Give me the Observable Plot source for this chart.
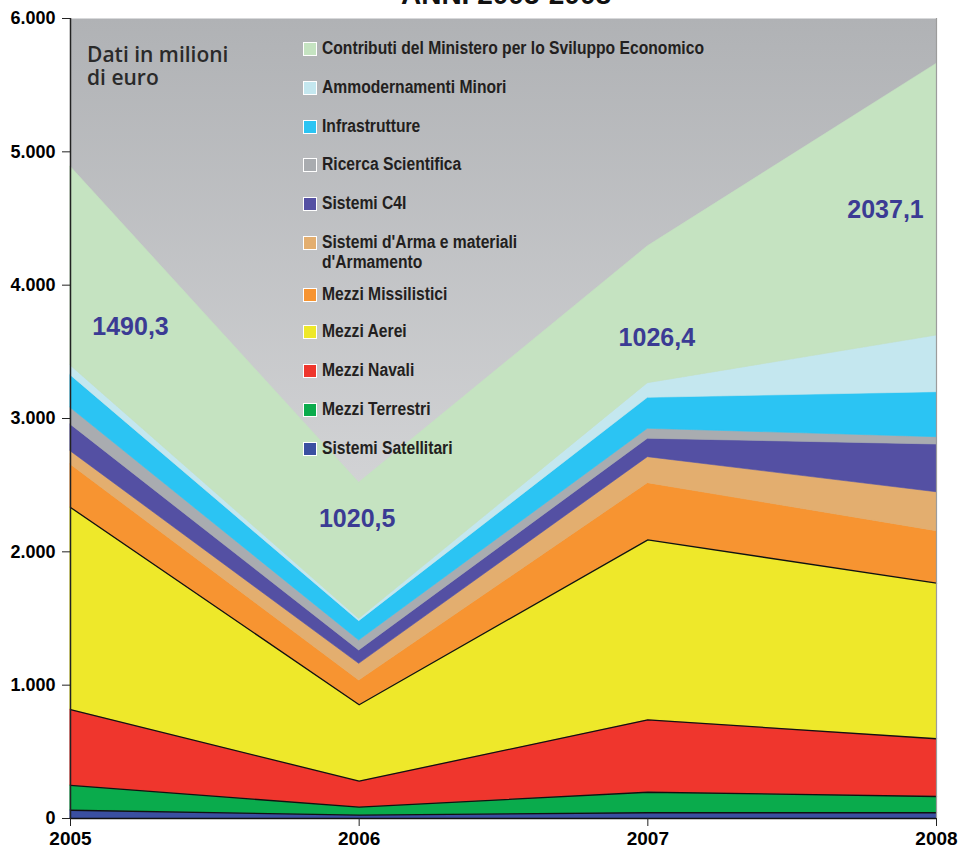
<!DOCTYPE html>
<html>
<head>
<meta charset="utf-8">
<script src="https://cdn.jsdelivr.net/npm/d3@7"></script>
<script src="https://cdn.jsdelivr.net/npm/@observablehq/plot@0.6"></script>
<style>
  html, body { margin: 0; padding: 0; background: #fff; }
  #wrap { position: relative; width: 961px; height: 849px; overflow: hidden; }
  #title { position: absolute; top: -19px; left: 506px; transform: translateX(-50%);
    font: bold 28px "Liberation Sans", Arial, sans-serif; color: #111; white-space: nowrap; line-height: 1; }
  .unit { position: absolute; left: 87px; font: 600 21px "Open Sans", sans-serif; color: #2a2a2a; line-height: 22px; white-space: nowrap; }
  #legend { position: absolute; left: 0; top: 0; }
  .row { position: absolute; left: 303px; white-space: nowrap; }
  .sw { position: absolute; left: 0; top: 1px; width: 12px; height: 12px; border: 1px solid #fff; }
  .lab { position: absolute; left: 19px; top: -3px; font: bold 18px "Liberation Sans", Arial, sans-serif; color: #231f20;
    line-height: 20px; white-space: nowrap; transform: scaleX(0.87); transform-origin: 0 0; }
</style>
</head>
<body>
<div id="wrap">
  <div id="title">ANNI 2005-2008</div>
  <div class="unit" style="top:43px">Dati in milioni</div>
  <div class="unit" style="top:66px">di euro</div>
  <div id="legend"></div>
</div>
<script>
// ---- data (millions of euro) ----
const years = [2005, 2006, 2007, 2008];
const seriesNames = [
  "Sistemi Satellitari",
  "Mezzi Terrestri",
  "Mezzi Navali",
  "Mezzi Aerei",
  "Mezzi Missilistici",
  "Sistemi d'Arma e materiali d'Armamento",
  "Sistemi C4I",
  "Ricerca Scientifica",
  "Infrastrutture",
  "Ammodernamenti Minori",
  "Contributi del Ministero per lo Sviluppo Economico"
];
const satellitari   = [62, 25, 43, 43];
const terrestri     = [186, 60, 154, 122];
const navali        = [569, 195, 543, 433];
const aerei         = [1516, 573, 1350, 1167];
const missilistici  = [322, 182, 425, 390];
const armi          = [100, 125, 195, 292];
const c4i           = [200, 100, 138, 358];
const ricerca       = [125, 75, 75, 55];
const infrastrutture= [245, 145, 232, 337];
const ammodernamenti= [73, 17, 110, 425];
const contributi    = [1490.3, 1020.5, 1026.4, 2037.1];
const yTicks = [0, 1000, 2000, 3000, 4000, 5000, 6000];

const seriesValues = [satellitari, terrestri, navali, aerei, missilistici, armi, c4i, ricerca, infrastrutture, ammodernamenti, contributi];
const colors = ["#3a4fa1", "#0aab4c", "#ef362d", "#eee82a", "#f79431", "#e3ae6f", "#5450a3", "#a9acb0", "#2bc4f3", "#c4e7ef", "#c5e3c1"];

const table = [];
seriesNames.forEach((s, i) => years.forEach((y, j) => table.push({series: s, year: y, value: seriesValues[i][j]})));
const outlined = seriesNames.slice(0, 4);
const lowerTable = table.filter(d => outlined.includes(d.series));

// label positions: middle of the top (Contributi) band
const labelData = years.map((y, j) => {
  let base = 0;
  for (let i = 0; i < seriesValues.length - 1; i++) base += seriesValues[i][j];
  return {year: y, mid: base + contributi[j] / 2, text: contributi[j].toFixed(1).replace(".", ",")};
});
const labelOffsets = [[60, 61], [-2, -32], [9, 23], [-51, 10]];

const locale = d3.formatLocale({decimal: ",", thousands: ".", grouping: [3], currency: ["", "€"]});
const fmt = locale.format(",");

const chart = Plot.plot({
  width: 961,
  height: 849,
  marginLeft: 70,
  marginRight: 25,
  marginTop: 18,
  marginBottom: 31,
  style: {background: "transparent", fontFamily: "'Liberation Sans', Arial, sans-serif", color: "#000", overflow: "visible"},
  x: {domain: [years[0], years[years.length - 1]], label: null},
  y: {domain: [0, 6000], label: null},
  color: {domain: seriesNames, range: colors},
  marks: [
    Plot.frame({fill: "url(#bgGrad)", stroke: null}),
    Plot.areaY(table, {x: "year", y: "value", z: "series", fill: "series", stroke: "series", strokeWidth: 0.6, order: seriesNames, curve: "linear"}),
    Plot.line(lowerTable, Plot.stackY2({x: "year", y: "value", z: "series", order: seriesNames, stroke: "#111", strokeWidth: 1.3})),
    Plot.ruleX([years[years.length - 1]], {stroke: "#9c9c9c", strokeWidth: 1.2}),
    Plot.ruleY([0], {stroke: "#111", strokeWidth: 1.6}),
    Plot.ruleX([years[0]], {stroke: "#222", strokeWidth: 1.5}),
    Plot.axisX({ticks: years, tickFormat: d => String(d), tickSize: 8, tickPadding: 5, fontSize: 19, fontWeight: "bold", stroke: "#222"}),
    Plot.axisY({ticks: yTicks, tickFormat: d => fmt(d), tickSize: 8, tickPadding: 7, fontSize: 18, fontWeight: "bold", stroke: "#222"}),
    ...labelData.map((d, i) => Plot.text([d], {x: "year", y: "mid", text: "text", dx: labelOffsets[i][0], dy: labelOffsets[i][1], fontSize: 25, fontWeight: "bold", fill: "#3b3b94"}))
  ]
});

const ns = "http://www.w3.org/2000/svg";
const defs = document.createElementNS(ns, "defs");
defs.innerHTML = `<linearGradient id="bgGrad" x1="0" y1="0" x2="0" y2="1">
  <stop offset="0" stop-color="#b0b2b5"/>
  <stop offset="0.6" stop-color="#d3d4d6"/>
  <stop offset="1" stop-color="#e2e2e3"/>
</linearGradient>`;
chart.insertBefore(defs, chart.firstChild);
chart.style.position = "absolute";
chart.style.left = "0";
chart.style.top = "0";
const wrap = document.getElementById("wrap");
wrap.insertBefore(chart, wrap.firstChild);

// legend (top entry first)
const legend = document.getElementById("legend");
const legendLabels = seriesNames.slice().reverse();
const legendColors = colors.slice().reverse();
const rowTops = [41, 80, 119, 157, 196, 235, 287, 324, 363, 402, 441];
legendLabels.forEach((name, i) => {
  const row = document.createElement("div");
  row.className = "row";
  row.style.top = rowTops[i] + "px";
  const sw = document.createElement("div");
  sw.className = "sw";
  sw.style.background = legendColors[i];
  const lab = document.createElement("div");
  lab.className = "lab";
  lab.innerHTML = name === "Sistemi d'Arma e materiali d'Armamento" ? "Sistemi d'Arma e materiali<br>d'Armamento" : name;
  row.appendChild(sw);
  row.appendChild(lab);
  legend.appendChild(row);
});
</script>
</body>
</html>
